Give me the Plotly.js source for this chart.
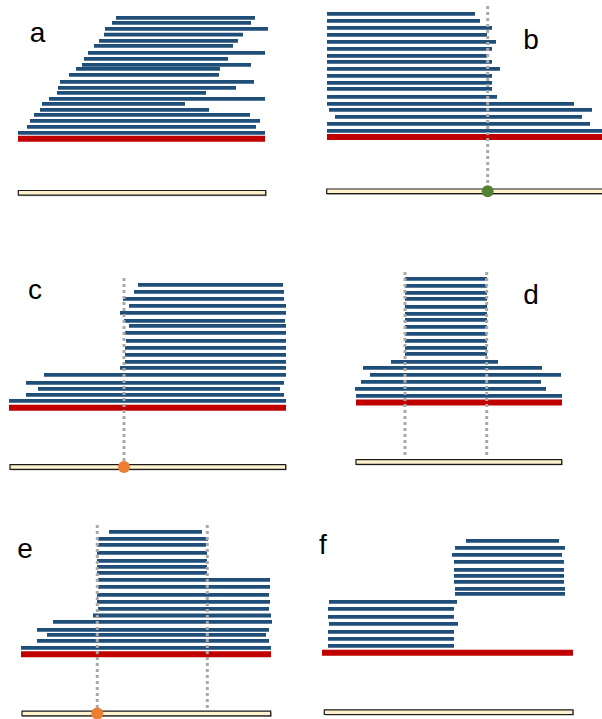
<!DOCTYPE html>
<html>
<head>
<meta charset="utf-8">
<script src="https://cdn.plot.ly/plotly-3.0.1.min.js"></script>
<style>html,body{margin:0;padding:0;background:#fff;}#chart{width:602px;height:719px;}</style>
</head>
<body>
<div id="chart"></div>
<script>
// Panel labels
const panelLabels = ['a', 'b', 'c', 'd', 'e', 'f'];

// Panel a
const aStart = [116, 112, 105, 104, 99, 94, 88, 84, 82, 76, 69, 60, 58, 57, 49, 42, 40, 34, 30, 27, 18];
const aEnd   = [255, 251, 268, 243, 238, 233, 265, 228, 251, 220, 219, 254, 236, 206, 265, 185, 209, 250, 260, 256, 265];
const aRow   = [17.8, 22.8, 28.8, 34.7, 40.8, 45.8, 52.8, 58.8, 64.8, 68.8, 74.8, 81.8, 87.8, 92.8, 98.8, 103.8, 109.8, 114.8, 120.8, 126.8, 132.8];

// Panel b
const bStart = [27, 27, 27, 27, 27, 27, 27, 27, 27, 27, 27, 27, 27, 27, 29, 35, 27, 27];
const bEnd   = [175, 180, 192, 187, 196, 192, 187, 192, 200, 192, 192, 192, 197, 274, 292, 282, 290, 302];
const bRow   = [13.8, 20.8, 27.8, 34.8, 41.8, 48.8, 55.8, 61.8, 68.8, 75.8, 82.8, 88.8, 96.8, 103.8, 109.8, 116.8, 123.8, 130.8];

// Panel c
const cStart = [138, 134, 123, 129, 120, 124, 129, 125, 126, 125, 125, 125, 120, 44, 26, 38, 26, 9];
const cEnd   = [283, 284, 284, 286, 286, 285, 286, 286, 286, 286, 286, 286, 286, 286, 284, 280, 284, 286];
const cRow   = [44.8, 51.8, 58.8, 65.8, 72.8, 80.8, 85.8, 92.8, 100.8, 107.8, 114.8, 121.8, 127.8, 134.8, 142.8, 148.8, 154.8, 160.8];

// Panel d
const dStart = [105, 105, 105, 105, 105, 105, 105, 105, 105, 105, 105, 105, 91, 63, 70, 61, 55, 56];
const dEnd   = [187, 187, 187, 187, 187, 187, 187, 187, 187, 187, 187, 187, 198, 242, 261, 241, 246, 262];
const dRow   = [38.8, 45.8, 52.8, 58.8, 66.8, 73.8, 79.8, 86.8, 93.8, 100.8, 107.8, 113.8, 121.8, 127.8, 134.8, 141.8, 148.8, 155.8];

// Panel e
const eStart = [109, 98, 97, 97, 97, 97, 97, 98, 98, 97, 97, 98, 93, 53, 37, 47, 37, 21];
const eEnd   = [202, 208, 206, 207, 207, 207, 207, 270, 270, 269, 270, 269, 271, 272, 269, 266, 269, 271];
const eRow   = [51.8, 58.8, 64.8, 72.8, 80.8, 86.8, 92.8, 99.8, 106.8, 114.8, 121.8, 128.8, 135.5, 141.8, 149.8, 154.8, 160.8, 167.8];

// Panel f
const fStart = [166, 155, 152, 154, 154, 154, 154, 155, 155, 29, 28, 28, 29, 28, 28, 28];
const fEnd   = [259, 265, 262, 264, 264, 264, 264, 265, 265, 157, 154, 154, 158, 154, 154, 154];
const fRow   = [60.8, 67.8, 74.8, 81.8, 89.8, 95.8, 101.8, 108.8, 113.8, 121.8, 128.8, 136.8, 143.8, 151.8, 158.8, 165.8];

// Reference (red) bar per panel
const refStart = [18, 27, 9, 56, 21, 22];
const refEnd   = [265, 302, 286, 262, 271, 273];
const refRow   = [138.8, 137, 167.8, 162.5, 174.3, 172.8];

// Cream axis bar per panel
const axStart = [18.3, 26.7, 10, 56, 22, 24.3];
const axEnd   = [265.7, 305, 285.7, 261.7, 270.7, 273];
const axRow   = [192.8, 191.3, 227, 222, 233.5, 232.2];

// Dotted guide lines: panel index, x, yTop, yBottom
const guidePanel = [1, 2, 3, 3, 4, 4];
const guideX     = [187.7, 124, 105, 186.7, 97.3, 207.3];
const guideTop   = [6, 38, 32, 32, 45, 45];
const guideBot   = [190, 227, 215, 215, 233, 228];

// Position markers: panel index, x, colour
const markPanel = [1, 2, 4];
const markX     = [187.7, 124, 97.3];
const markColor = ['#548235', '#ED7D31', '#ED7D31'];

// Label positions
const labelX = [37.5, 231, 35, 231, 25, 23];
const labelY = [35, 42, 52, 57, 71, 67];

const starts = [aStart, bStart, cStart, dStart, eStart, fStart];
const ends   = [aEnd, bEnd, cEnd, dEnd, eEnd, fEnd];
const rows   = [aRow, bRow, cRow, dRow, eRow, fRow];

const W = 602, H = 719;
const colBox = [[0, 300], [300, 602]];
const rowBox = [[0, 240], [240, 480], [480, 719]];

const traces = [];
const layout = {
  width: W, height: H,
  margin: {l: 0, r: 0, t: 0, b: 0},
  paper_bgcolor: '#ffffff', plot_bgcolor: 'rgba(0,0,0,0)',
  showlegend: false, barmode: 'overlay'
};

for (let p = 0; p < 6; p++) {
  const n = p + 1;
  const xa = n === 1 ? 'x' : 'x' + n;
  const ya = n === 1 ? 'y' : 'y' + n;
  const cb = colBox[p % 2], rb = rowBox[Math.floor(p / 2)];
  layout['xaxis' + (n === 1 ? '' : n)] = {
    domain: [cb[0] / W, cb[1] / W], range: [0, cb[1] - cb[0]],
    visible: false, fixedrange: true, anchor: ya
  };
  layout['yaxis' + (n === 1 ? '' : n)] = {
    domain: [1 - rb[1] / H, 1 - rb[0] / H], range: [rb[1] - rb[0], 0],
    visible: false, fixedrange: true, anchor: xa
  };
  // shadow of cream bar
  traces.push({type: 'bar', orientation: 'h', xaxis: xa, yaxis: ya,
    base: [axStart[p] + 1], x: [axEnd[p] - axStart[p]], y: [axRow[p] + 1], width: 5,
    marker: {color: '#BFBFBF', line: {width: 0}}, hoverinfo: 'skip'});
  // cream bar
  traces.push({type: 'bar', orientation: 'h', xaxis: xa, yaxis: ya,
    base: [axStart[p]], x: [axEnd[p] - axStart[p]], y: [axRow[p]], width: 4.6,
    marker: {color: '#FFF2CC', line: {color: '#1a1a1a', width: 1.2}}, hoverinfo: 'skip'});
  // blue bars
  traces.push({type: 'bar', orientation: 'h', xaxis: xa, yaxis: ya,
    base: starts[p], x: ends[p].map((e, i) => e - starts[p][i]), y: rows[p], width: 3.8,
    marker: {color: '#1F4E79', line: {width: 0}}, hoverinfo: 'skip'});
  // red bar
  traces.push({type: 'bar', orientation: 'h', xaxis: xa, yaxis: ya,
    base: [refStart[p]], x: [refEnd[p] - refStart[p]], y: [refRow[p]], width: 6,
    marker: {color: '#C00000', line: {width: 0}}, hoverinfo: 'skip'});
  // label
  traces.push({type: 'scatter', mode: 'text', xaxis: xa, yaxis: ya,
    x: [labelX[p]], y: [labelY[p]], text: [panelLabels[p]], textposition: 'middle center',
    textfont: {family: 'Liberation Sans, Arial, sans-serif', size: 28, color: '#000'},
    cliponaxis: false, hoverinfo: 'skip'});
}

for (let g = 0; g < guideX.length; g++) {
  const n = guidePanel[g] + 1;
  traces.push({type: 'scatter', mode: 'lines',
    xaxis: n === 1 ? 'x' : 'x' + n, yaxis: n === 1 ? 'y' : 'y' + n,
    x: [guideX[g], guideX[g]], y: [guideTop[g], guideBot[g]],
    line: {color: '#A9A9A9', width: 3, dash: '3px,3px'},
    cliponaxis: false, hoverinfo: 'skip'});
}

for (let m = 0; m < markX.length; m++) {
  const n = markPanel[m] + 1;
  traces.push({type: 'scatter', mode: 'markers',
    xaxis: n === 1 ? 'x' : 'x' + n, yaxis: n === 1 ? 'y' : 'y' + n,
    x: [markX[m]], y: [axRow[markPanel[m]]],
    marker: {color: markColor[m], size: 12, line: {width: 0}},
    cliponaxis: false, hoverinfo: 'skip'});
}

Plotly.newPlot('chart', traces, layout, {staticPlot: true, displayModeBar: false});
</script>
</body>
</html>
